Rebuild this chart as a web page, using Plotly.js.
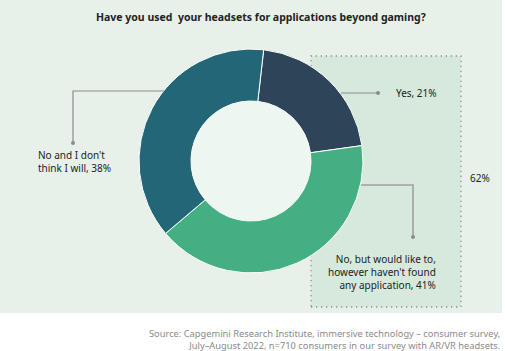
<!DOCTYPE html>
<html>
<head>
<meta charset="utf-8">
<script src="https://cdn.plot.ly/plotly-3.0.1.min.js"></script>
<style>html,body{margin:0;padding:0;background:#fff;}#chart{width:505px;height:351px;}</style>
</head>
<body>
<div id="chart"></div>
<script>
// ---- data ----
const categories = ["Yes", "No, but would like to, however haven't found any application", "No and I don't think I will"];
const values = [21, 41, 38];
const labelLines = [["Yes"], ["No, but would like to,", "however haven't found", "any application"], ["No and I don't", "think I will"]];
const sliceColors = ["#2d4459", "#44b081", "#226678"];
const titleText = "Have you used  your headsets for applications beyond gaming?";
const sourceLines = ["Source: Capgemini Research Institute, immersive technology \u2013 consumer survey,", "July\u2013August 2022, n=710 consumers in our survey with AR/VR headsets."];

// ---- layout helpers (pixels -> paper) ----
const W = 505, H = 351;
const px = x => x / W;
const py = y => 1 - y / H;
const cx = 251, cy = 161, R = 112, r = 60;
const font = "Noto Sans, Open Sans, sans-serif";
const txt = "#222222";
const lineCol = "#8c8c8c";

function lbl(i) {
  const lines = labelLines[i].slice();
  lines[lines.length - 1] += ", " + values[i] + "%";
  return lines.join("<br>");
}

const shapes = [
  {type: "rect", xref: "paper", yref: "paper", x0: 0, x1: px(502), y0: py(313), y1: 1, fillcolor: "#e7f1ea", line: {width: 0}, layer: "below"},
  {type: "rect", xref: "paper", yref: "paper", x0: px(311), x1: px(461), y0: py(307), y1: py(56), fillcolor: "#d6e9dc", line: {color: "#8f8f8f", width: 1.3, dash: "1.3px,3.7px"}, layer: "below"},
  {type: "circle", xref: "paper", yref: "paper", x0: px(cx - r), x1: px(cx + r), y0: py(cy + r), y1: py(cy - r), fillcolor: "#eef6f1", line: {width: 0}, layer: "above"},
  // leader: No and I don't
  {type: "path", xref: "paper", yref: "paper", path: `M ${px(164)} ${py(91)} L ${px(73)} ${py(91)} L ${px(73)} ${py(143)}`, line: {color: lineCol, width: 1.2}},
  {type: "circle", xref: "paper", yref: "paper", x0: px(71), x1: px(75), y0: py(145), y1: py(141), fillcolor: lineCol, line: {width: 0}},
  // leader: Yes
  {type: "path", xref: "paper", yref: "paper", path: `M ${px(341)} ${py(93)} L ${px(378)} ${py(93)}`, line: {color: lineCol, width: 1.2}},
  {type: "circle", xref: "paper", yref: "paper", x0: px(376), x1: px(380), y0: py(95), y1: py(91), fillcolor: lineCol, line: {width: 0}},
  // leader: No, but would like to
  {type: "path", xref: "paper", yref: "paper", path: `M ${px(361)} ${py(185)} L ${px(413)} ${py(185)} L ${px(413)} ${py(237)}`, line: {color: "#a0a0a0", width: 1.6}},
  {type: "circle", xref: "paper", yref: "paper", x0: px(411), x1: px(415), y0: py(239), y1: py(235), fillcolor: lineCol, line: {width: 0}}
];

const annotations = [
  {text: "<b>" + titleText + "</b>", x: px(261), y: py(17), xref: "paper", yref: "paper", xanchor: "center", yanchor: "middle", showarrow: false, font: {family: font, size: 10.5, color: txt}},
  {text: lbl(2), x: px(36), y: py(146), xref: "paper", yref: "paper", xanchor: "left", yanchor: "top", align: "left", showarrow: false, font: {family: font, size: 10, color: txt}},
  {text: lbl(0), x: px(394), y: py(93), xref: "paper", yref: "paper", xanchor: "left", yanchor: "middle", align: "left", showarrow: false, font: {family: font, size: 10, color: txt}},
  {text: lbl(1), x: px(438), y: py(250), xref: "paper", yref: "paper", xanchor: "right", yanchor: "top", align: "right", showarrow: false, font: {family: font, size: 10, color: txt}},
  {text: (values[0] + values[1]) + "%", x: px(468), y: py(178), xref: "paper", yref: "paper", xanchor: "left", yanchor: "middle", showarrow: false, font: {family: font, size: 10, color: txt}},
  {text: sourceLines.join("<br>"), x: px(502), y: py(325), xref: "paper", yref: "paper", xanchor: "right", yanchor: "top", align: "right", showarrow: false, font: {family: font, size: 9.3, color: "#8a8a8a"}}
];

const trace = {
  type: "pie",
  labels: categories,
  values: values,
  sort: false,
  direction: "clockwise",
  rotation: 6.5,
  hole: r / R,
  textinfo: "none",
  hoverinfo: "skip",
  marker: {colors: sliceColors, line: {color: "#ffffff", width: 1}},
  domain: {x: [px(cx - R), px(cx + R)], y: [py(cy + R), py(cy - R)]},
  showlegend: false
};

Plotly.newPlot("chart", [trace], {
  width: W, height: H,
  margin: {l: 0, r: 0, t: 0, b: 0},
  paper_bgcolor: "#ffffff",
  plot_bgcolor: "rgba(0,0,0,0)",
  showlegend: false,
  shapes: shapes,
  annotations: annotations
}, {staticPlot: true, displayModeBar: false});
</script>
</body>
</html>
